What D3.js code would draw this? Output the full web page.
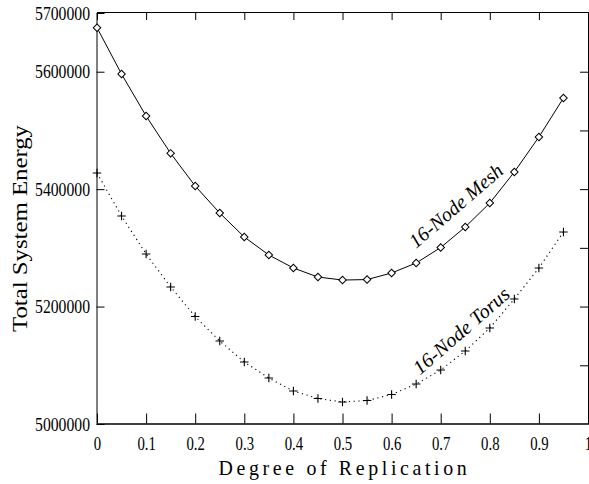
<!DOCTYPE html>
<html><head><meta charset="utf-8">
<script src="https://cdn.jsdelivr.net/npm/d3@7"></script>
<style>
html,body{margin:0;padding:0;background:#fff;overflow:hidden}
svg{display:block}
text{font-family:"Liberation Serif","Times New Roman",serif;fill:#000}
</style></head><body>
<svg id="c" width="589" height="484"></svg>
<script>
// ---- data ----
const replication = [0,0.05,0.1,0.15,0.2,0.25,0.3,0.35,0.4,0.45,0.5,0.55,0.6,0.65,0.7,0.75,0.8,0.85,0.9,0.95];
const meshEnergy  = [5675000,5596000,5524500,5461000,5405300,5359300,5318500,5287800,5265700,5250300,5245200,5246000,5257200,5274200,5300600,5335500,5376400,5429200,5488800,5555200];
const torusEnergy = [5427500,5354200,5289500,5233300,5183000,5141300,5105600,5078300,5056200,5043400,5037500,5040000,5050200,5068100,5092000,5124300,5163500,5212900,5265700,5327000];
const xTickValues = [0,0.1,0.2,0.3,0.4,0.5,0.6,0.7,0.8,0.9,1];
const xTickLabels = ["0","0.1","0.2","0.3","0.4","0.5","0.6","0.7","0.8","0.9","1"];
const yLabelValues = [5000000,5200000,5400000,5600000,5700000];
const yLabelTexts = ["5000000","5200000","5400000","5600000","5700000"];
const yRightValues = [5100000,5200000,5300000,5400000,5500000,5600000];
const seriesNames = ["16-Node Mesh","16-Node Torus"];
const xTitle = "Degree of Replication";
const yTitle = "Total System Energy";

// ---- layout ----
const svg = d3.select("#c");
const x = d3.scaleLinear().domain([0,1]).range([97,588]);
const y = d3.scaleLinear().domain([5000000,5700000]).range([424,13]);

function fitWidth(sel, target){
  const w = sel.node().getComputedTextLength();
  return target / w;
}

// top axis (ticks only)
const gTop = svg.append("g").attr("transform","translate(0,12)")
  .call(d3.axisTop(x).tickValues(xTickValues).tickSizeInner(-8).tickSizeOuter(0).tickFormat(""));
gTop.selectAll("text").remove();

// right axis (ticks only)
const gRight = svg.append("g").attr("transform","translate(588,0)")
  .call(d3.axisRight(y).tickValues(yRightValues).tickSizeInner(-8).tickSizeOuter(0).tickFormat(""));
gRight.selectAll("text").remove();

// left axis
const gLeft = svg.append("g").attr("transform","translate(96.5,0)")
  .call(d3.axisLeft(y).tickValues(yLabelValues).tickSizeInner(-8).tickSizeOuter(0)
    .tickFormat((d,i)=>yLabelTexts[i]));
gLeft.attr("font-family",null).attr("font-size",null);
gLeft.selectAll("text").attr("x",0).attr("dy","0.34em")
  .style("font-size","18px");
const ySc = fitWidth(gLeft.select(".tick text"), 55);
gLeft.selectAll("text").attr("transform",`translate(-6.5,0) scale(${ySc},1)`);

// bottom axis
const gBot = svg.append("g").attr("transform","translate(0,423.5)")
  .call(d3.axisBottom(x).tickValues(xTickValues).tickSizeInner(-10).tickSizeOuter(0)
    .tickFormat((d,i)=>xTickLabels[i]));
gBot.attr("font-family",null).attr("font-size",null);
gBot.select(".domain").attr("stroke-width",1.6);
gBot.selectAll("text").attr("y",0).attr("dy",0).style("font-size","18px")
  .attr("transform","translate(0,26.5) scale(0.82,1)");

svg.selectAll(".domain, .tick line").attr("stroke","#000");

// lines
const line = d3.line().x((d,i)=>x(replication[i])).y(d=>y(d));
svg.append("path").datum(meshEnergy).attr("d",line)
  .attr("fill","none").attr("stroke","#000").attr("stroke-width",1);
svg.append("path").datum(torusEnergy).attr("d",line)
  .attr("fill","none").attr("stroke","#000").attr("stroke-width",1.1)
  .attr("stroke-dasharray","1.2,3.6");

// markers
const diamond = d3.symbol().type(d3.symbolSquare).size(28);
svg.append("g").selectAll("path").data(meshEnergy).join("path")
  .attr("d",diamond)
  .attr("transform",(d,i)=>`translate(${x(replication[i])},${y(d)}) rotate(45)`)
  .attr("fill","#fff").attr("stroke","#000").attr("stroke-width",1);

const plusType = { draw(ctx, size){ const r = Math.sqrt(size)/2; ctx.moveTo(-r,0); ctx.lineTo(r,0); ctx.moveTo(0,-r); ctx.lineTo(0,r);} };
const plus = d3.symbol().type(plusType).size(72);
svg.append("g").selectAll("path").data(torusEnergy).join("path")
  .attr("d",plus)
  .attr("transform",(d,i)=>`translate(${x(replication[i])},${y(d)})`)
  .attr("fill","none").attr("stroke","#000").attr("stroke-width",1.1);

// curve labels
const lblMesh = svg.append("text").text(seriesNames[0])
  .style("font-size","20px").style("font-style","italic");
const sM = fitWidth(lblMesh, 117);
lblMesh.attr("transform",`translate(416,249) rotate(-40.7) scale(${sM},1)`);

const lblTorus = svg.append("text").text(seriesNames[1])
  .style("font-size","20px").style("font-style","italic");
const sT = fitWidth(lblTorus, 121);
lblTorus.attr("transform",`translate(420,375.5) rotate(-41) scale(${sT},1)`);

// axis titles
const xt = svg.append("text").text(xTitle).attr("text-anchor","middle")
  .style("font-size","22px").style("letter-spacing","4px");
const sx = fitWidth(xt, 252);
xt.attr("transform",`translate(344.5,475) scale(${sx},1)`);

const yt = svg.append("text").text(yTitle).attr("text-anchor","middle")
  .style("font-size","21.5px");
const sy = fitWidth(yt, 207);
yt.attr("transform",`translate(26.5,228.5) rotate(-90) scale(${sy},1)`);
</script>
</body></html>
